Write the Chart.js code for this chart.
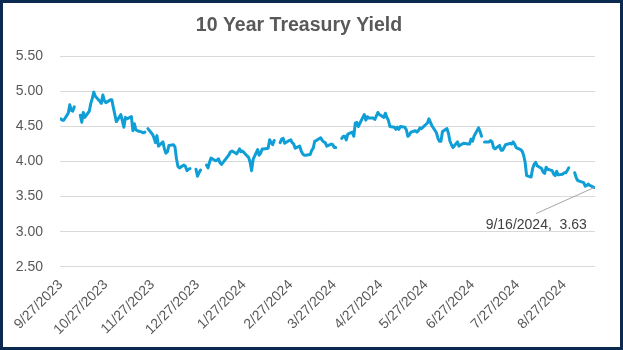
<!DOCTYPE html>
<html>
<head>
<meta charset="utf-8">
<script src="https://cdn.jsdelivr.net/npm/chart.js@4.4.1/dist/chart.umd.min.js"></script>
<style>
  html, body { margin: 0; padding: 0; background: #fff; }
  #wrap {
    width: 623px; height: 350px; box-sizing: border-box;
    border: 3px solid #0c2a4f; background: #fff;
  }
  #chart { display: block; }
</style>
</head>
<body>
<div id="wrap"><canvas id="chart" width="617" height="344"></canvas></div>
<script>
// 10 year yield, daily closes (null = market holiday, drawn as a gap)
const dates = [
  '9/27/2023','9/28/2023','9/29/2023',
  '10/2/2023','10/3/2023','10/4/2023','10/5/2023','10/6/2023','10/9/2023','10/10/2023','10/11/2023','10/12/2023','10/13/2023',
  '10/16/2023','10/17/2023','10/18/2023','10/19/2023','10/20/2023','10/23/2023','10/24/2023','10/25/2023','10/26/2023','10/27/2023',
  '10/30/2023','10/31/2023','11/1/2023','11/2/2023','11/3/2023','11/6/2023','11/7/2023','11/8/2023','11/9/2023','11/10/2023',
  '11/13/2023','11/14/2023','11/15/2023','11/16/2023','11/17/2023','11/20/2023','11/21/2023','11/22/2023','11/23/2023','11/24/2023',
  '11/27/2023','11/28/2023','11/29/2023','11/30/2023','12/1/2023','12/4/2023','12/5/2023','12/6/2023','12/7/2023','12/8/2023',
  '12/11/2023','12/12/2023','12/13/2023','12/14/2023','12/15/2023','12/18/2023','12/19/2023','12/20/2023','12/21/2023','12/22/2023',
  '12/25/2023','12/26/2023','12/27/2023','12/28/2023','12/29/2023',
  '1/1/2024','1/2/2024','1/3/2024','1/4/2024','1/5/2024','1/8/2024','1/9/2024','1/10/2024','1/11/2024','1/12/2024',
  '1/16/2024','1/17/2024','1/18/2024','1/19/2024','1/22/2024','1/23/2024','1/24/2024','1/25/2024','1/26/2024',
  '1/29/2024','1/30/2024','1/31/2024','2/1/2024','2/2/2024','2/5/2024','2/6/2024','2/7/2024','2/8/2024','2/9/2024',
  '2/12/2024','2/13/2024','2/14/2024','2/15/2024','2/16/2024','2/19/2024','2/20/2024','2/21/2024','2/22/2024','2/23/2024',
  '2/26/2024','2/27/2024','2/28/2024','2/29/2024','3/1/2024','3/4/2024','3/5/2024','3/6/2024','3/7/2024','3/8/2024',
  '3/11/2024','3/12/2024','3/13/2024','3/14/2024','3/15/2024','3/18/2024','3/19/2024','3/20/2024','3/21/2024','3/22/2024',
  '3/25/2024','3/26/2024','3/27/2024','3/28/2024','3/29/2024',
  '4/1/2024','4/2/2024','4/3/2024','4/4/2024','4/5/2024','4/8/2024','4/9/2024','4/10/2024','4/11/2024','4/12/2024',
  '4/15/2024','4/16/2024','4/17/2024','4/18/2024','4/19/2024','4/22/2024','4/23/2024','4/24/2024','4/25/2024','4/26/2024',
  '4/29/2024','4/30/2024','5/1/2024','5/2/2024','5/3/2024','5/6/2024','5/7/2024','5/8/2024','5/9/2024','5/10/2024',
  '5/13/2024','5/14/2024','5/15/2024','5/16/2024','5/17/2024','5/20/2024','5/21/2024','5/22/2024','5/23/2024','5/24/2024',
  '5/28/2024','5/29/2024','5/30/2024','5/31/2024','6/3/2024','6/4/2024','6/5/2024','6/6/2024','6/7/2024',
  '6/10/2024','6/11/2024','6/12/2024','6/13/2024','6/14/2024','6/17/2024','6/18/2024','6/20/2024','6/21/2024',
  '6/24/2024','6/25/2024','6/26/2024','6/27/2024','6/28/2024','7/1/2024','7/2/2024','7/3/2024','7/4/2024','7/5/2024',
  '7/8/2024','7/9/2024','7/10/2024','7/11/2024','7/12/2024','7/15/2024','7/16/2024','7/17/2024','7/18/2024','7/19/2024',
  '7/22/2024','7/23/2024','7/24/2024','7/25/2024','7/26/2024','7/29/2024','7/30/2024','7/31/2024','8/1/2024','8/2/2024',
  '8/5/2024','8/6/2024','8/7/2024','8/8/2024','8/9/2024','8/12/2024','8/13/2024','8/14/2024','8/15/2024','8/16/2024',
  '8/19/2024','8/20/2024','8/21/2024','8/22/2024','8/23/2024','8/26/2024','8/27/2024','8/28/2024','8/29/2024','8/30/2024',
  '9/2/2024','9/3/2024','9/4/2024','9/5/2024','9/6/2024','9/9/2024','9/10/2024','9/11/2024','9/12/2024','9/13/2024',
  '9/16/2024'
];
const yields = [
  4.61, 4.59, 4.59,
  4.69, 4.81, 4.73, 4.72, 4.78, null, 4.66, 4.56, 4.70, 4.63,
  4.72, 4.83, 4.90, 4.99, 4.93, 4.86, 4.83, 4.95, 4.87, 4.84,
  4.88, 4.88, 4.77, 4.67, 4.57, 4.67, 4.58, 4.49, 4.63, 4.61,
  4.64, 4.44, 4.54, 4.45, 4.44, 4.42, 4.41, 4.42, null, 4.47,
  4.39, 4.34, 4.27, 4.37, 4.22, 4.28, 4.18, 4.12, 4.14, 4.23,
  4.24, 4.21, 4.04, 3.93, 3.91, 3.95, 3.93, 3.87, 3.89, 3.90,
  null, 3.89, 3.79, 3.84, 3.88,
  null, 3.95, 3.91, 3.99, 4.05, 4.01, 4.02, 4.04, 3.98, 3.96,
  4.07, 4.10, 4.14, 4.15, 4.11, 4.14, 4.18, 4.14, 4.15,
  4.08, 4.06, 3.99, 3.87, 4.03, 4.17, 4.09, 4.12, 4.18, 4.18,
  4.19, 4.31, 4.27, 4.24, 4.30, null, 4.27, 4.32, 4.33, 4.26,
  4.30, 4.31, 4.27, 4.25, 4.19, 4.22, 4.15, 4.11, 4.09, 4.09,
  4.10, 4.16, 4.19, 4.29, 4.30, 4.34, 4.30, 4.28, 4.27, 4.22,
  4.25, 4.24, 4.20, 4.20, null,
  4.33, 4.36, 4.36, 4.31, 4.39, 4.42, 4.36, 4.55, 4.56, 4.50,
  4.63, 4.67, 4.59, 4.64, 4.62, 4.62, 4.60, 4.65, 4.70, 4.67,
  4.63, 4.69, 4.63, 4.59, 4.50, 4.49, 4.46, 4.49, 4.46, 4.50,
  4.49, 4.45, 4.36, 4.38, 4.42, 4.44, 4.42, 4.44, 4.48, 4.47,
  4.55, 4.61, 4.56, 4.51, 4.41, 4.33, 4.29, 4.29, 4.43,
  4.47, 4.40, 4.29, 4.24, 4.20, 4.28, 4.22, 4.25, 4.26,
  4.25, 4.25, 4.32, 4.29, 4.36, 4.48, 4.43, 4.36, null, 4.28,
  4.28, 4.30, 4.28, 4.20, 4.18, 4.23, 4.16, 4.16, 4.20, 4.24,
  4.26, 4.25, 4.28, 4.25, 4.20, 4.17, 4.15, 4.09, 3.99, 3.80,
  3.78, 3.90, 3.96, 3.99, 3.94, 3.90, 3.85, 3.83, 3.92, 3.89,
  3.87, 3.82, 3.80, 3.86, 3.81, 3.82, 3.84, 3.84, 3.87, 3.91,
  null, 3.84, 3.77, 3.73, 3.72, 3.70, 3.65, 3.66, 3.68, 3.66,
  3.63
];
const xTickLabels = ['9/27/2023','10/27/2023','11/27/2023','12/27/2023','1/27/2024','2/27/2024',
  '3/27/2024','4/27/2024','5/27/2024','6/27/2024','7/27/2024','8/27/2024'];
const yTicks = [2.5, 3.0, 3.5, 4.0, 4.5, 5.0, 5.5];

// day number counted from the first date
function dayNum(s) {
  const [m, d, y] = s.split('/').map(Number);
  return Date.UTC(y, m - 1, d) / 86400000;
}
const base = dayNum(dates[0]);
const points = dates.map((d, i) => ({ x: dayNum(d) - base, y: yields[i] }));
const tickDays = xTickLabels.map(d => dayNum(d) - base);
const lastX = dayNum(dates[dates.length - 1]) - base;

const textGray = '#595959';
const font = { family: '"Liberation Sans", Arial, sans-serif', size: 14 };

// data label with leader line on the last point
const lastLabel = {
  id: 'lastLabel',
  afterDatasetsDraw(chart) {
    const meta = chart.getDatasetMeta(0);
    const i = yields.length - 1;
    const pt = meta.data[i];
    const ctx = chart.ctx;
    const tx = pt.x - 58, ty = pt.y + 26;
    ctx.save();
    ctx.strokeStyle = '#a6a6a6';
    ctx.lineWidth = 1;
    ctx.beginPath();
    ctx.moveTo(pt.x, pt.y);
    ctx.lineTo(tx, ty);
    ctx.stroke();
    ctx.fillStyle = '#404040';
    ctx.font = '14px "Liberation Sans", Arial, sans-serif';
    ctx.textAlign = 'center';
    ctx.textBaseline = 'top';
    ctx.fillText(dates[i] + ',  ' + yields[i].toFixed(2), tx, ty + 5);
    ctx.restore();
  }
};

new Chart(document.getElementById('chart'), {
  type: 'line',
  data: {
    datasets: [{
      data: points,
      borderColor: '#0f9ed5',
      borderWidth: 3,
      pointRadius: 0,
      tension: 0,
      spanGaps: false,
      borderJoinStyle: 'round',
      borderCapStyle: 'round'
    }]
  },
  options: {
    responsive: false,
    animation: false,
    events: [],
    layout: { padding: { top: 0, left: 0, right: 25, bottom: 0 } },
    plugins: {
      legend: { display: false },
      tooltip: { enabled: false },
      title: {
        display: true,
        text: '10 Year Treasury Yield',
        color: textGray,
        font: { family: '"Liberation Sans", Arial, sans-serif', size: 19.5, weight: 'bold' },
        padding: { top: 11, bottom: 19 }
      }
    },
    scales: {
      x: {
        type: 'linear',
        min: -0.5,
        max: lastX + 0.5,
        grid: { display: false, drawTicks: false },
        border: { display: false },
        afterBuildTicks: s => { s.ticks = tickDays.map(v => ({ value: v })); },
        afterFit: s => { s.height = 80.3; },
        ticks: {
          autoSkip: false,
          maxRotation: 45,
          minRotation: 45,
          padding: 10,
          color: textGray,
          font: font,
          callback: (v, i) => xTickLabels[i]
        }
      },
      y: {
        min: 2.5,
        max: 5.5,
        afterBuildTicks: s => { s.ticks = yTicks.map(v => ({ value: v })); },
        afterFit: s => { s.width = 57; },
        grid: { color: '#d9d9d9', lineWidth: 1, drawTicks: false },
        border: { display: false },
        ticks: {
          padding: 17,
          color: textGray,
          font: font,
          callback: v => v.toFixed(2)
        }
      }
    }
  },
  plugins: [lastLabel]
});
</script>
</body>
</html>
